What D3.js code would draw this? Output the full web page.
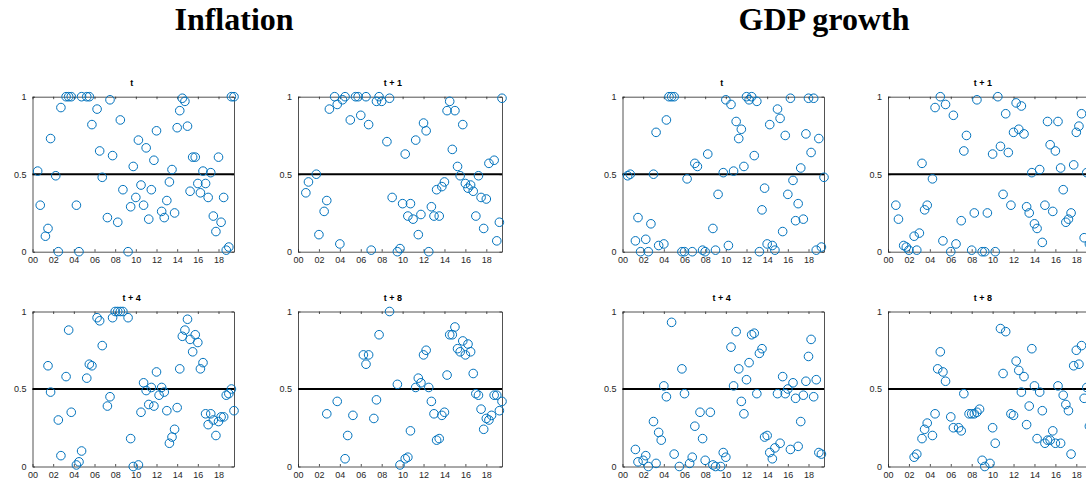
<!DOCTYPE html>
<html>
<head>
<meta charset="utf-8">
<script src="https://cdn.jsdelivr.net/npm/d3@7"></script>
<style>
  html, body { margin: 0; padding: 0; background: #fff; }
  svg { display: block; }
</style>
</head>
<body>
<svg id="chart" width="1086" height="485"></svg>
<script>
// ---------- data (x = years since 2000, y = value) ----------
const groupTitles = ["Inflation", "GDP growth"];
const horizons = ["t", "t + 1", "t + 4", "t + 8"];
const xTicks = [0, 2, 4, 6, 8, 10, 12, 14, 16, 18];
const xTickLabels = ["00", "02", "04", "06", "08", "10", "12", "14", "16", "18"];
const yTicks = [0, 0.5, 1];
const yTickLabels = ["0", "0.5", "1"];
const refLine = 0.5;

const inflT = [[0.5,0.52],[0.75,0.30],[1.25,0.10],[1.5,0.15],[1.75,0.73],[2.25,0.49],[2.5,0],[2.75,0.93],
  [3.25,1],[3.5,1],[3.75,1],[4.25,0.30],[4.5,0],[4.75,1],[5.25,1],[5.5,1],[5.75,0.82],[6.25,0.92],[6.5,0.65],
  [6.75,0.48],[7.25,0.22],[7.5,0.98],[7.75,0.62],[8.25,0.19],[8.5,0.85],[8.75,0.40],[9.25,0],[9.5,0.29],
  [9.75,0.55],[10,0.35],[10.25,0.72],[10.5,0.43],[10.75,0.30],[11,0.67],[11.25,0.21],[11.5,0.40],[11.75,0.59],
  [12,0.78],[12.5,0.26],[12.75,0.22],[13,0.33],[13.25,0.45],[13.5,0.53],[13.75,0.25],[14,0.80],[14.25,0.91],
  [14.5,0.99],[14.75,0.97],[15,0.81],[15.25,0.39],[15.5,0.61],[15.75,0.61],[16,0.44],[16.25,0.38],[16.5,0.52],
  [16.75,0.44],[17,0.35],[17.25,0.51],[17.5,0.23],[17.75,0.13],[18,0.61],[18.25,0.19],[18.5,0.35],[18.75,0.01],
  [19,0.03],[19.25,1],[19.5,1]];

const inflT1 = [[0.75,0.38],[1,0.45],[1.75,0.50],[2,0.11],[2.5,0.26],[2.75,0.33],[3,0.92],[3.5,1],[3.75,0.95],
  [4,0.05],[4.25,0.98],[4.5,1],[5,0.85],[5.5,1],[5.75,1],[6,0.88],[6.5,1],[6.75,0.82],[7,0.01],[7.5,0.97],
  [7.75,1],[8,0.97],[8.5,0.71],[8.75,0.99],[9,0.35],[9.5,0],[9.75,0.02],[10,0.31],[10.25,0.63],[10.5,0.23],
  [10.75,0.31],[11,0.21],[11.25,0.72],[11.5,0.11],[11.75,0.24],[12,0.83],[12.25,0.78],[12.5,0],[12.75,0.29],
  [13,0.23],[13.25,0.40],[13.5,0.23],[13.75,0.42],[14,0.45],[14.25,0.91],[14.5,0.97],[14.75,0.66],[15,0.91],
  [15.25,0.55],[15.5,0.49],[15.75,0.82],[16,0.44],[16.25,0.41],[16.5,0.43],[16.75,0.39],[17,0.23],[17.25,0.49],
  [17.5,0.35],[17.75,0.15],[18,0.34],[18.25,0.57],[18.75,0.59],[19,0.07],[19.25,0.19],[19.5,0.99]];

const inflT4 = [[1.5,0.65],[1.75,0.48],[2.5,0.30],[2.75,0.07],[3.25,0.58],[3.5,0.88],[3.75,0.35],[4.25,0.01],
  [4.5,0.03],[4.75,0.10],[5.25,0.57],[5.5,0.66],[5.75,0.65],[6.25,0.96],[6.5,0.94],[6.75,0.78],[7.25,0.39],
  [7.5,0.45],[7.75,0.96],[8,1],[8.25,1],[8.5,1],[8.75,1],[9.25,0.96],[9.5,0.18],[9.75,0],[10.25,0.01],
  [10.5,0.35],[10.75,0.54],[11,0.49],[11.25,0.40],[11.5,0.51],[11.75,0.39],[12,0.61],[12.25,0.46],[12.5,0.51],
  [12.75,0.48],[13,0.36],[13.25,0.15],[13.5,0.19],[13.75,0.24],[14,0.38],[14.25,0.63],[14.5,0.84],[14.75,0.88],
  [15,0.95],[15.25,0.82],[15.5,0.74],[15.75,0.85],[16,0.80],[16.25,0.63],[16.5,0.67],[16.75,0.34],[17,0.27],
  [17.25,0.34],[17.5,0.30],[17.75,0.20],[18,0.29],[18.25,0.32],[18.5,0.32],[18.75,0.46],[19,0.47],[19.25,0.50],
  [19.5,0.36]];

const inflT8 = [[2.75,0.34],[3.75,0.42],[4.5,0.05],[4.75,0.20],[5.25,0.33],[6.25,0.72],[6.5,0.66],[6.75,0.72],
  [7.25,0.31],[7.5,0.43],[7.75,0.85],[8.75,1],[9.5,0.53],[9.75,0.01],[10.25,0.05],[10.5,0.06],[10.75,0.23],
  [11.25,0.51],[11.5,0.57],[11.75,0.54],[12,0.72],[12.25,0.75],[12.5,0.51],[12.75,0.42],[13,0.34],[13.25,0.17],
  [13.5,0.18],[13.75,0.33],[14,0.35],[14.25,0.59],[14.5,0.85],[14.75,0.85],[15,0.90],[15.25,0.76],[15.5,0.74],
  [15.75,0.81],[16,0.72],[16.25,0.79],[16.5,0.74],[16.75,0.60],[17,0.47],[17.25,0.46],[17.5,0.37],[17.75,0.24],
  [18,0.31],[18.25,0.30],[18.5,0.33],[18.75,0.46],[19,0.46],[19.25,0.36],[19.5,0.42]];

const gdpT = [[0.5,0.49],[0.75,0.50],[1.25,0.07],[1.5,0.22],[1.75,0],[2.25,0.08],[2.5,0],[2.75,0.18],[3,0.50],
  [3.25,0.77],[3.5,0.04],[4,0.05],[4.25,0.85],[4.5,1],[4.75,1],[5,1],[5.75,0],[6,0],[6.25,0.47],[6.75,0],
  [7,0.57],[7.25,0.55],[7.75,0.01],[8,0],[8.25,0.63],[8.75,0.15],[9,0.01],[9.25,0.37],[9.75,0.51],[10,0.98],
  [10.25,0.04],[10.5,0.95],[10.75,0.52],[11,0.84],[11.25,0.73],[11.5,0.79],[11.75,0.55],[12,1],[12.25,0.98],
  [12.5,1],[12.75,0.62],[13,0.97],[13.25,0],[13.5,0.27],[13.75,0.41],[14,0.05],[14.25,0.82],[14.5,0.04],
  [14.75,0.01],[15,0.92],[15.25,0.86],[15.5,0.13],[15.75,0.75],[16,0.37],[16.25,0.99],[16.5,0.46],[16.75,0.20],
  [17,0.31],[17.25,0.54],[17.5,0.21],[17.75,0.76],[18,0.99],[18.25,0.64],[18.5,0.99],[18.75,0.01],[19,0.73],
  [19.25,0.03],[19.5,0.48]];

const gdpT1 = [[0.75,0.30],[1,0.21],[1.5,0.04],[1.75,0.03],[2,0.01],[2.5,0.10],[2.75,0.01],[3,0.12],[3.25,0.57],
  [3.5,0.27],[3.75,0.30],[4.25,0.47],[4.5,0.93],[5,1],[5.25,0.07],[5.5,0.95],[6,0],[6.25,0.88],[6.5,0.05],
  [7,0.20],[7.25,0.65],[7.5,0.75],[8,0.01],[8.25,0.25],[8.5,0.98],[9,0],[9.25,0],[9.5,0.25],[10,0.63],
  [10.25,0],[10.5,1],[10.75,0.68],[11,0.37],[11.25,0.89],[11.5,0.64],[11.75,0.30],[12,0.77],[12.25,0.96],
  [12.5,0.79],[12.75,0.94],[13,0.76],[13.25,0.29],[13.5,0.25],[13.75,0.51],[14,0.18],[14.25,0.15],[14.5,0.53],
  [14.75,0.06],[15,0.30],[15.25,0.84],[15.5,0.69],[15.75,0.26],[16,0.65],[16.25,0.84],[16.5,0.54],[16.75,0.40],
  [17,0.19],[17.25,0.21],[17.5,0.25],[17.75,0.56],[18,0.77],[18.25,0.81],[18.5,0.89],[18.75,0.09],[19,0.51],
  [19.25,0.05]];

const gdpT4 = [[1.25,0.11],[1.5,0.03],[2,0.04],[2.25,0.07],[2.5,0],[3,0.29],[3.25,0.02],[3.5,0.22],[3.75,0.17],
  [4,0.52],[4.25,0.45],[4.75,0.93],[5,0.08],[5.5,0],[5.75,0.63],[6,0.47],[6.5,0.02],[6.75,0.06],[7,0.26],
  [7.5,0.35],[7.75,0.18],[8,0.04],[8.5,0.35],[8.75,0.01],[9,0],[9.5,0],[9.75,0.09],[10,0.06],[10.5,0.77],
  [10.75,0.52],[11,0.87],[11.25,0.63],[11.5,0.42],[11.75,0.34],[12,0.56],[12.25,0.67],[12.5,0.85],[12.75,0.86],
  [13,0.47],[13.25,0.73],[13.5,0.76],[13.75,0.19],[14,0.20],[14.25,0.09],[14.5,0.05],[14.75,0.12],[15,0.47],
  [15.25,0.15],[15.5,0.58],[15.75,0.47],[16,0.50],[16.25,0.11],[16.5,0.54],[16.75,0.44],[17,0.13],[17.25,0.29],
  [17.5,0.46],[17.75,0.55],[18,0.71],[18.25,0.82],[18.5,0.45],[18.75,0.56],[19,0.09],[19.25,0.08]];

const gdpT8 = [[2.5,0.06],[2.75,0.08],[3.25,0.18],[3.5,0.24],[3.75,0.28],[4.25,0.20],[4.5,0.34],[4.75,0.63],
  [5,0.74],[5.25,0.61],[5.5,0.55],[6,0.32],[6.25,0.25],[6.75,0.25],[7,0.23],[7.25,0.47],[7.75,0.34],[8,0.34],
  [8.25,0.34],[8.5,0.35],[8.75,0.37],[9,0.04],[9.25,0],[9.75,0.02],[10,0.25],[10.25,0.15],[10.75,0.89],
  [11,0.60],[11.25,0.87],[11.75,0.34],[12,0.33],[12.25,0.68],[12.5,0.62],[12.75,0.48],[13,0.58],[13.25,0.27],
  [13.5,0.39],[13.75,0.76],[14,0.52],[14.25,0.18],[14.5,0.48],[14.75,0.36],[15,0.15],[15.25,0.17],[15.5,0.17],
  [15.75,0.23],[16,0.15],[16.25,0.52],[16.5,0.15],[16.75,0.46],[17,0.40],[17.25,0.36],[17.5,0.08],[17.75,0.65],
  [18,0.75],[18.25,0.66],[18.5,0.78],[18.75,0.44],[19,0.51],[19.25,0.26]];

const panelData = [
  [inflT, inflT1, inflT4, inflT8],
  [gdpT, gdpT1, gdpT4, gdpT8]
];

// ---------- layout ----------
const svg = d3.select("#chart");
const groupX = [32.5, 622.5];
const colDX = [0, 265.5];
const colW = [201.5, 204];
const rowY = [96.7, 311.5];
const panelH = 155;
const titleDX = [-1.5, -7];
const axisColor = "#262626";
const markColor = "#0072BD";
const tickLen = 2.5;
const xDomain = [0, 19.5];

groupTitles.forEach((gt, g) => {
  svg.append("text")
    .attr("x", groupX[g] + colW[0])
    .attr("y", 30)
    .attr("text-anchor", "middle")
    .style("font-family", "'Liberation Serif', 'Times New Roman', serif")
    .style("font-weight", "bold")
    .style("font-size", "32px")
    .attr("fill", "#000")
    .text(gt);

  horizons.forEach((h, i) => {
    const col = i % 2, row = Math.floor(i / 2);
    const x0 = groupX[g] + colDX[col];
    const y0 = rowY[row];
    const w = colW[col];
    const x = d3.scaleLinear().domain(xDomain).range([0, w]);
    const y = d3.scaleLinear().domain([0, 1]).range([panelH, 0]);
    const p = svg.append("g").attr("transform", `translate(${x0},${y0})`);

    // title
    p.append("text")
      .attr("x", w / 2 + titleDX[col])
      .attr("y", -11)
      .attr("text-anchor", "middle")
      .style("font-family", "'Liberation Sans', Arial, sans-serif")
      .style("font-weight", "bold")
      .style("font-size", "9px")
      .attr("fill", "#000")
      .text(h);

    // axes
    const xAxis = d3.axisBottom(x).tickValues(xTicks)
      .tickFormat((d, k) => xTickLabels[k]).tickSizeInner(-tickLen).tickSizeOuter(0).tickPadding(5);
    const yAxis = d3.axisLeft(y).tickValues(yTicks)
      .tickFormat((d, k) => yTickLabels[k]).tickSizeInner(-tickLen).tickSizeOuter(0).tickPadding(6);
    const xTop = d3.axisTop(x).tickValues(xTicks).tickFormat("").tickSizeInner(-tickLen).tickSizeOuter(0);
    const yRight = d3.axisRight(y).tickValues(yTicks).tickFormat("").tickSizeInner(-tickLen).tickSizeOuter(0);

    const styleAxis = sel => {
      sel.selectAll("path").attr("stroke", axisColor).attr("stroke-width", 0.8);
      sel.selectAll("line").attr("stroke", axisColor).attr("stroke-width", 0.8);
      sel.selectAll("text")
        .style("font-family", "'Liberation Sans', Arial, sans-serif")
        .style("font-size", "9px")
        .attr("fill", axisColor);
    };
    p.append("g").attr("transform", `translate(0,${panelH})`).call(xAxis).call(styleAxis);
    p.append("g").call(yAxis).call(styleAxis);
    p.append("g").call(xTop).call(styleAxis);
    p.append("g").attr("transform", `translate(${w},0)`).call(yRight).call(styleAxis);

    // reference line
    p.append("line")
      .attr("x1", x(xDomain[0])).attr("x2", x(xDomain[1]))
      .attr("y1", y(refLine)).attr("y2", y(refLine))
      .attr("stroke", "#000").attr("stroke-width", 2);

    // points
    p.append("g").selectAll("circle")
      .data(panelData[g][i])
      .join("circle")
      .attr("cx", d => x(d[0]))
      .attr("cy", d => y(d[1]))
      .attr("r", 4.3)
      .attr("fill", "none")
      .attr("stroke", markColor)
      .attr("stroke-width", 1);
  });
});
</script>
</body>
</html>
